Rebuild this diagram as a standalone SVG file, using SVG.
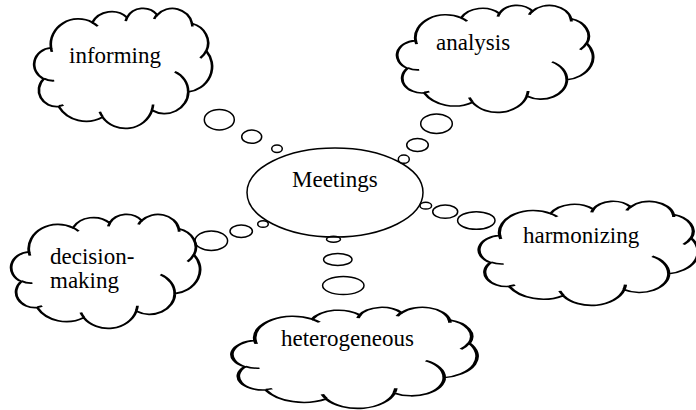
<svg xmlns="http://www.w3.org/2000/svg" xmlns:xlink="http://www.w3.org/1999/xlink" width="696" height="410" viewBox="0 0 696 410">
<style>
.ln{fill:none;stroke:#000;stroke-width:1.5}
.cl{fill:none;stroke:#000;stroke-width:1.5}
.cl path{vector-effect:non-scaling-stroke}
.tx{font-family:"Liberation Serif","Times New Roman",serif;font-size:23px;fill:#000}
</style>
<defs>
<g id="cloud">
<path d="M9.03 33.26A15.63 21.27 0 0 1 32.42 12.04A12.35 16.82 0 0 1 51.98 7.95A10.10 13.76 0 0 1 69.06 5.75A11.24 15.27 0 0 1 88.70 12.91A12.35 16.84 0 0 1 96.80 35.79A15.68 21.34 0 0 1 86.59 69.92A13.39 18.21 0 0 1 66.10 85.22A15.63 21.33 0 0 1 38.15 90.90A17.87 24.41 0 0 1 13.44 82.11A10.09 13.70 0 0 1 4.89 59.15A10.06 13.76 0 0 1 9.03 33.26Z"/>
<path d="M10.86 60.59A10.06 13.76 0 0 1 5.00 58.75M16.04 80.78A10.09 13.70 0 0 1 13.47 81.67M38.14 90.49A15.63 21.33 0 0 1 36.60 86.45M66.73 80.44A15.63 21.33 0 0 1 66.11 84.86M79.00 53.13A13.39 18.21 0 0 1 86.53 69.65M96.75 35.54A12.35 16.84 0 0 1 93.40 41.74M88.71 12.56A11.24 15.27 0 0 1 88.89 15.49M67.31 9.15A11.24 15.27 0 0 1 69.03 5.42M51.25 10.93A10.10 13.76 0 0 1 52.08 7.71M32.41 12.02A15.63 21.27 0 0 1 35.42 15.14M9.55 36.55A15.63 21.27 0 0 1 9.03 33.27"/>
</g>
</defs>
<rect width="696" height="410" fill="#fff"/>
<g id="connectors" class="ln">
<ellipse cx="219.3" cy="119.7" rx="15" ry="10.2"/>
<ellipse cx="251.7" cy="136.7" rx="10" ry="6.6"/>
<ellipse cx="277" cy="148.8" rx="5.3" ry="3.8"/>
<ellipse cx="436.5" cy="123.7" rx="15.8" ry="9.7"/>
<ellipse cx="417.5" cy="145" rx="10.8" ry="6.6"/>
<ellipse cx="403.8" cy="159.2" rx="5.5" ry="4.1"/>
<ellipse cx="425.8" cy="205.7" rx="5.8" ry="3.4"/>
<ellipse cx="445.2" cy="211.7" rx="12.5" ry="6.6"/>
<ellipse cx="476.3" cy="220.5" rx="18.7" ry="8.8"/>
<ellipse cx="211.3" cy="240.7" rx="16.3" ry="9.8"/>
<ellipse cx="241.2" cy="231.2" rx="11.2" ry="6.2"/>
<ellipse cx="263" cy="224" rx="5.3" ry="3.3"/>
<ellipse cx="333.5" cy="239.2" rx="7" ry="3"/>
<ellipse cx="337.8" cy="259.5" rx="14.2" ry="6"/>
<ellipse cx="343.3" cy="285.5" rx="20.7" ry="9"/>
</g>
<g id="meetings">
<ellipse class="ln" cx="335" cy="192.5" rx="88" ry="44.5"/>
<text class="tx" x="292" y="187">Meetings</text>
</g>
<g id="informing">
<use class="cl" xlink:href="#cloud" transform="translate(35,8) scale(1.77,1.2)"/>
<text class="tx" x="69" y="63">informing</text>
</g>
<g id="analysis">
<use class="cl" xlink:href="#cloud" transform="translate(398,5) scale(1.95,1.07)"/>
<text class="tx" x="436" y="50">analysis</text>
</g>
<g id="decision-making">
<use class="cl" xlink:href="#cloud" transform="translate(12,214) scale(1.88,1.14)"/>
<text class="tx" x="50" y="264">decision-</text>
<text class="tx" x="50" y="288">making</text>
</g>
<g id="harmonizing">
<use class="cl" xlink:href="#cloud" transform="translate(480,201) scale(2.18,1.04)"/>
<text class="tx" x="523" y="243">harmonizing</text>
</g>
<g id="heterogeneous">
<use class="cl" xlink:href="#cloud" transform="translate(233,307) scale(2.44,1.01)"/>
<text class="tx" x="281" y="346">heterogeneous</text>
</g>
</svg>
